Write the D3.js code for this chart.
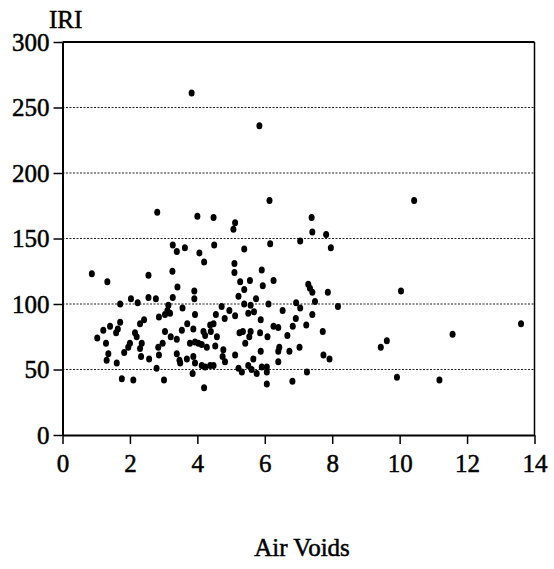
<!DOCTYPE html>
<html>
<head>
<meta charset="utf-8">
<script src="https://cdn.jsdelivr.net/npm/d3@7"></script>
<style>
  body { margin: 0; background: #fff; }
  svg text { font-family: "Liberation Serif", "Times New Roman", serif; fill: #000; stroke: #000; stroke-width: 0.5px; }
</style>
</head>
<body>
<div id="chart"></div>
<script>
// Air voids (%)
const airVoids = [
  2.81, 4.0, 3.27, 3.39, 3.63, 4.06, 0.87, 1.33, 2.55, 3.26, 3.41, 3.91, 3.91, 1.71, 2.03, 2.23, 2.55, 2.77, 3.27, 3.14,
  3.56, 3.11, 3.04, 2.86, 3.19, 3.93, 3.70, 2.42, 2.30, 1.71, 1.64, 1.59, 1.41, 1.21, 1.03, 1.29, 2.15, 2.20, 2.0, 1.95,
  1.83, 2.35, 2.30, 3.04, 2.97, 2.84, 3.21, 3.39, 3.54, 3.78, 3.93, 3.88, 1.36, 1.31, 1.61, 2.33, 2.57, 2.86, 2.79, 3.39,
  3.47, 3.49, 3.69, 3.93, 3.86, 1.76, 2.10, 3.01,
  4.48, 5.12, 5.07, 4.50, 4.20, 5.39, 6.16, 5.10, 5.10, 5.91, 5.27, 5.56, 5.94, 5.39, 5.22, 5.74, 4.72, 5.39, 5.58, 6.11,
  4.55, 4.95, 4.81, 5.12, 5.51, 5.68, 5.88, 4.18, 4.38, 4.48, 4.40, 4.58, 4.23, 4.03, 4.13, 4.28, 4.53, 5.25, 5.35, 5.58,
  5.54, 5.86, 6.08, 5.42, 4.77, 5.12, 4.75, 4.82, 5.66, 5.88, 3.88, 4.13, 4.23, 4.38, 4.48, 5.22, 5.32, 5.51, 5.61, 5.76,
  5.91, 6.06, 6.06, 4.20,
  6.14, 7.39, 7.41, 7.82, 7.96, 7.05, 6.26, 7.29, 7.34, 7.41, 7.87, 7.49, 6.93, 7.05, 8.17, 6.53, 7.41, 6.92, 6.26, 6.40,
  6.83, 7.23, 6.67, 7.72, 6.43, 6.40, 6.73, 7.03, 7.74, 7.92, 6.40, 6.06, 7.25, 6.82,
  3.83, 5.84, 10.04, 9.62, 9.44, 9.92, 10.43, 13.6, 11.57, 11.18
];

// IRI for each point above, same order
const iri = [
  170, 167, 145, 140, 143, 139, 123, 117, 122, 125, 113, 110, 104, 100, 104, 101, 105, 104, 105, 99,
  97, 95, 92, 90, 93, 92, 85, 88, 85, 86, 81, 78, 83, 80, 74, 70, 78, 75, 70, 67,
  63, 70, 66, 79, 70, 67, 75, 73, 80, 70, 71, 81, 62, 57, 55, 60, 58, 61, 51, 62,
  57, 55, 58, 55, 47, 43, 42, 42,
  166, 162, 157, 145, 132, 142, 146, 131, 124, 126, 117, 118, 114, 111, 106, 104, 98, 100, 99, 100,
  92, 95, 89, 91, 93, 94, 88, 79, 84, 85, 79, 75, 76, 70, 69, 67, 68, 78, 79, 79,
  75, 78, 75, 70, 65, 61, 60, 56, 58, 64, 60, 53, 52, 53, 53, 51, 48, 53, 50, 47,
  52, 48, 39, 36,
  179, 166, 155, 153, 143, 148, 118, 115, 112, 109, 109, 102, 101, 97, 98, 95, 92, 89, 83, 82,
  83, 84, 76, 79, 67, 64, 64, 67, 61, 58, 56, 52, 48, 41,
  261, 236, 110, 72, 67, 44, 179, 85, 77, 42
];

const xTicks = [0, 2, 4, 6, 8, 10, 12, 14];
const yTicks = [0, 50, 100, 150, 200, 250, 300];

const data = airVoids.map((v, i) => ({ x: v, y: iri[i] }));

const width = 554;
const height = 569;
const margin = { top: 42, right: 20, bottom: 134, left: 62.5 };

const svg = d3.select("#chart")
  .append("svg")
  .attr("width", width)
  .attr("height", height);

const x = d3.scaleLinear()
  .domain([0, 14])
  .range([margin.left, 534.5]);

const y = d3.scaleLinear()
  .domain([0, 300])
  .range([height - margin.bottom, margin.top]);

// dotted gridlines
svg.append("g")
  .selectAll("line")
  .data(yTicks.filter(t => t > 0 && t < 300))
  .enter()
  .append("line")
  .attr("x1", x(0))
  .attr("x2", x(14))
  .attr("y1", d => y(d))
  .attr("y2", d => y(d))
  .attr("stroke", "#222")
  .attr("stroke-width", 1.2)
  .attr("stroke-dasharray", "2,1.5");

// top and right frame
svg.append("line")
  .attr("x1", x(0)).attr("x2", x(14))
  .attr("y1", y(300)).attr("y2", y(300))
  .attr("stroke", "#000").attr("stroke-width", 2);
svg.append("line")
  .attr("x1", x(14)).attr("x2", x(14))
  .attr("y1", y(300)).attr("y2", y(0))
  .attr("stroke", "#000").attr("stroke-width", 1.5);

// x axis
const xAxis = svg.append("g")
  .attr("transform", `translate(0,${y(0)})`)
  .call(d3.axisBottom(x).tickValues(xTicks).tickSize(9).tickSizeOuter(0).tickPadding(10));
xAxis.attr("font-family", null).attr("font-size", null);
xAxis.select(".domain").attr("stroke-width", 2);
xAxis.selectAll(".tick line").attr("stroke-width", 1.5);
xAxis.selectAll("text").style("font-size", "25px");

// y axis
const yAxis = svg.append("g")
  .attr("transform", `translate(${x(0)},0)`)
  .call(d3.axisLeft(y).tickValues(yTicks).tickSize(9).tickSizeOuter(0).tickPadding(4));
yAxis.attr("font-family", null).attr("font-size", null);
yAxis.select(".domain").attr("stroke-width", 2);
yAxis.selectAll(".tick line").attr("stroke-width", 1.5);
yAxis.selectAll("text").style("font-size", "25px");

// points
svg.append("g")
  .selectAll("ellipse")
  .data(data)
  .enter()
  .append("ellipse")
  .attr("cx", d => x(d.x))
  .attr("cy", d => y(d.y))
  .attr("rx", 3)
  .attr("ry", 3.5)
  .attr("fill", "#000");

// axis titles
svg.append("text")
  .attr("x", 49)
  .attr("y", 28)
  .style("font-size", "25px")
  .text("IRI");

svg.append("text")
  .attr("x", 302)
  .attr("y", 556)
  .attr("text-anchor", "middle")
  .style("font-size", "25px")
  .text("Air Voids");
</script>
</body>
</html>
